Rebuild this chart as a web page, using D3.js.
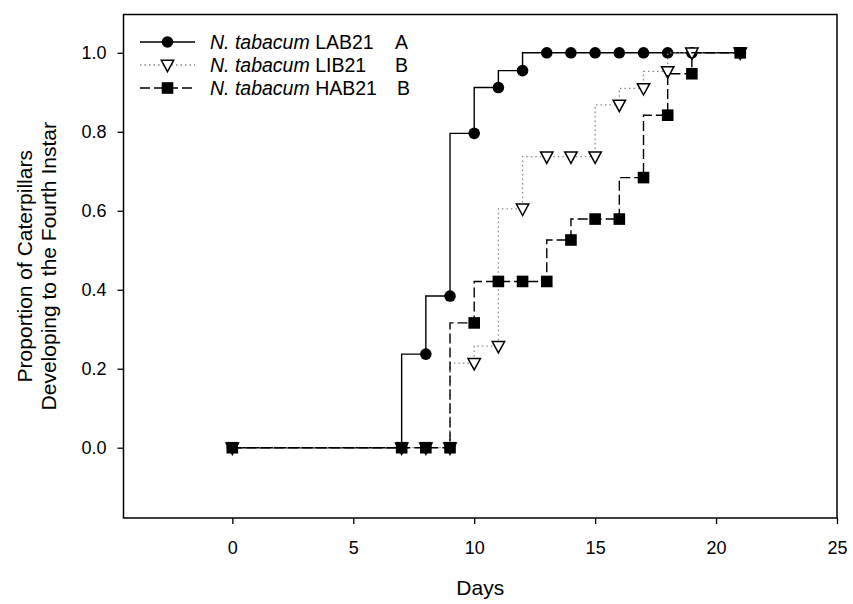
<!DOCTYPE html>
<html>
<head>
<meta charset="utf-8">
<script src="https://cdn.jsdelivr.net/npm/d3@7"></script>
<style>
  html, body { margin: 0; padding: 0; background: #fff; }
  svg { display: block; font-family: "Liberation Sans", Arial, sans-serif; }
</style>
</head>
<body>
<svg id="chart" width="853" height="604"></svg>
<script>
// ---- data ----
const days = [0, 7, 8, 9, 10, 11, 12, 13, 14, 15, 16, 17, 18, 19, 21];
const lab21 = [0, 0, 0.237, 0.384, 0.796, 0.912, 0.955, 1, 1, 1, 1, 1, 1, 1, 1];
const lib21 = [0, 0, 0, 0, 0.214, 0.257, 0.605, 0.737, 0.737, 0.737, 0.868, 0.91, 0.953, 1, 1];
const hab21 = [0, 0, 0, 0, 0.316, 0.421, 0.421, 0.421, 0.526, 0.579, 0.579, 0.684, 0.842, 0.947, 1];
const seriesNames = ["LAB21", "LIB21", "HAB21"];
const groupLetters = ["A", "B", "B"];
const xTicks = [0, 5, 10, 15, 20, 25];
const yTicks = [0, 0.2, 0.4, 0.6, 0.8, 1.0];

// ---- layout ----
const svg = d3.select("#chart");
const L = 123.5, R = 837, T = 14.5, B = 518;
const x = d3.scaleLinear().domain([-4.5, 25]).range([L, R]);
const y = d3.scaleLinear().domain([-0.178, 1.097]).range([B, T]);

// axes
const xAxis = d3.axisBottom(x).tickValues(xTicks).tickSize(6).tickPadding(17).tickFormat(d3.format("d"));
const yAxis = d3.axisLeft(y).tickValues(yTicks).tickSize(6).tickPadding(11).tickFormat(d3.format(".1f"));

const gx = svg.append("g").attr("transform", `translate(0,${B})`).call(xAxis);
const gy = svg.append("g").attr("transform", `translate(${L},0)`).call(yAxis);
[gx, gy].forEach(g => {
  g.select(".domain").remove();
  g.selectAll(".tick line").attr("stroke", "#000").attr("stroke-width", 1.3);
  g.selectAll(".tick text").attr("fill", "#000").style("font-size", "18px")
   .style("font-family", '"Liberation Sans", Arial, sans-serif');
});

// frame
svg.append("rect").attr("x", L).attr("y", T).attr("width", R - L).attr("height", B - T)
  .attr("fill", "none").attr("stroke", "#000").attr("stroke-width", 1.5);

// series definitions
const series = [
  { name: seriesNames[0], values: lab21, stroke: "#000", dash: null, width: 1.4, marker: "circle" },
  { name: seriesNames[1], values: lib21, stroke: "#8a8a8a", dash: "1.5,3", width: 1.3, marker: "triangle" },
  { name: seriesNames[2], values: hab21, stroke: "#000", dash: "10,4", width: 1.4, marker: "square" }
];

const line = d3.line().curve(d3.curveStepBefore).x(d => x(d.d)).y(d => y(d.v));

function drawMarker(g, type, cx, cy) {
  if (type === "circle") {
    g.append("circle").attr("cx", cx).attr("cy", cy).attr("r", 5.8).attr("fill", "#000");
  } else if (type === "square") {
    g.append("rect").attr("x", cx - 5.8).attr("y", cy - 5.8).attr("width", 11.6).attr("height", 11.6).attr("fill", "#000");
  } else {
    const w = 6.2, h = 5.2;
    g.append("path").attr("d", `M${cx - w},${cy - h + 0.5}L${cx + w},${cy - h + 0.5}L${cx},${cy + h + 1.5}Z`)
      .attr("fill", "#fff").attr("stroke", "#000").attr("stroke-width", 1.5).attr("stroke-linejoin", "miter");
  }
}

series.forEach(s => {
  const pts = days.map((d, i) => ({ d: d, v: s.values[i] }));
  const g = svg.append("g");
  g.append("path").datum(pts).attr("d", line).attr("fill", "none")
    .attr("stroke", s.stroke).attr("stroke-width", s.width)
    .attr("stroke-dasharray", s.dash);
  pts.forEach(p => drawMarker(g, s.marker, x(p.d), y(p.v)));
});

// legend
const legY = [42, 65, 88];
series.forEach((s, i) => {
  const g = svg.append("g");
  g.append("line").attr("x1", 140).attr("x2", 195).attr("y1", legY[i]).attr("y2", legY[i])
    .attr("stroke", s.stroke).attr("stroke-width", s.width).attr("stroke-dasharray", s.dash);
  drawMarker(g, s.marker, 167.5, legY[i]);
  const t = g.append("text").attr("x", 210).attr("y", legY[i] + 7)
    .style("font-size", "19.5px").attr("fill", "#000");
  t.append("tspan").style("font-style", "italic").text("N. tabacum");
  t.append("tspan").text(" " + s.name);
  g.append("text").attr("x", i === 2 ? 397 : 395).attr("y", legY[i] + 7)
    .style("font-size", "19.5px").attr("fill", "#000").text(groupLetters[i]);
});

// axis titles
svg.append("text").attr("x", (L + R) / 2).attr("y", 595).attr("text-anchor", "middle")
  .style("font-size", "21px").text("Days");
const yt = svg.append("text").attr("transform", `translate(32,${(T + B) / 2}) rotate(-90)`)
  .attr("text-anchor", "middle").style("font-size", "21px");
yt.append("tspan").attr("x", 0).attr("dy", 0).text("Proportion of Caterpillars");
yt.append("tspan").attr("x", 0).attr("dy", 23.5).text("Developing to the Fourth Instar");
</script>
</body>
</html>
